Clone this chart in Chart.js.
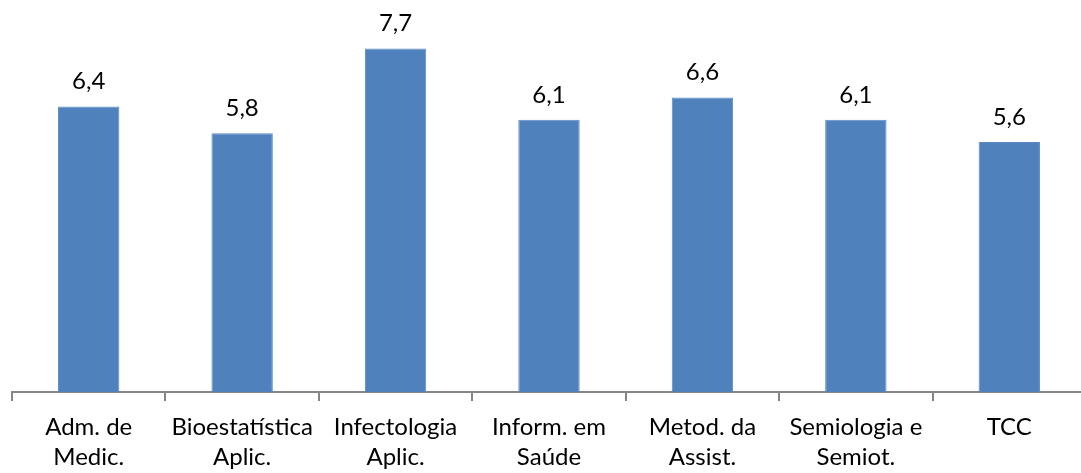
<!DOCTYPE html>
<html>
<head>
<meta charset="utf-8">
<script src="https://cdn.jsdelivr.net/npm/chart.js@4"></script>
<style>
  html, body { margin: 0; padding: 0; background: #fff; overflow: hidden; }
  canvas { display: block; }
</style>
</head>
<body>
<canvas id="c" width="1086" height="473"></canvas>
<script>
const categories = [
  ["Adm. de", "Medic."],
  ["Bioestatística", "Aplic."],
  ["Infectologia", "Aplic."],
  ["Inform. em", "Saúde"],
  ["Metod. da", "Assist."],
  ["Semiologia e", "Semiot."],
  ["TCC"]
];
const values = [6.4, 5.8, 7.7, 6.1, 6.6, 6.1, 5.6];

const valueLabels = {
  id: 'valueLabels',
  afterDatasetsDraw(chart) {
    const ctx = chart.ctx;
    const meta = chart.getDatasetMeta(0);
    ctx.save();
    ctx.font = '24px Lato';
    ctx.fillStyle = '#000';
    ctx.textAlign = 'center';
    ctx.textBaseline = 'alphabetic';
    meta.data.forEach((bar, i) => {
      const txt = values[i].toFixed(1).replace('.', ',');
      ctx.fillText(txt, bar.x, bar.y - 17);
    });
    ctx.restore();
  }
};

new Chart(document.getElementById('c'), {
  type: 'bar',
  data: {
    labels: categories,
    datasets: [{
      data: values,
      backgroundColor: '#4F81BD',
      borderColor: '#5B8AC4',
      borderWidth: 1,
      categoryPercentage: 1.0,
      barPercentage: 0.40
    }]
  },
  options: {
    responsive: false,
    animation: false,
    layout: { padding: { left: 12, top: 35, right: 0, bottom: 0 } },
    plugins: { legend: { display: false }, tooltip: { enabled: false } },
    scales: {
      y: { display: false, min: 0, max: 8 },
      x: {
        afterFit(scale) { scale.height = 81; },
        grid: {
          display: true,
          drawOnChartArea: false,
          drawTicks: true,
          tickLength: 9,
          color: '#868686',
          lineWidth: 2,
          offset: true
        },
        border: { display: true, color: '#868686', width: 2 },
        ticks: {
          color: '#000',
          padding: 11,
          maxRotation: 0,
          autoSkip: false,
          font: { family: 'Lato', size: 24, lineHeight: 1.27 }
        }
      }
    }
  },
  plugins: [valueLabels]
});
</script>
</body>
</html>
